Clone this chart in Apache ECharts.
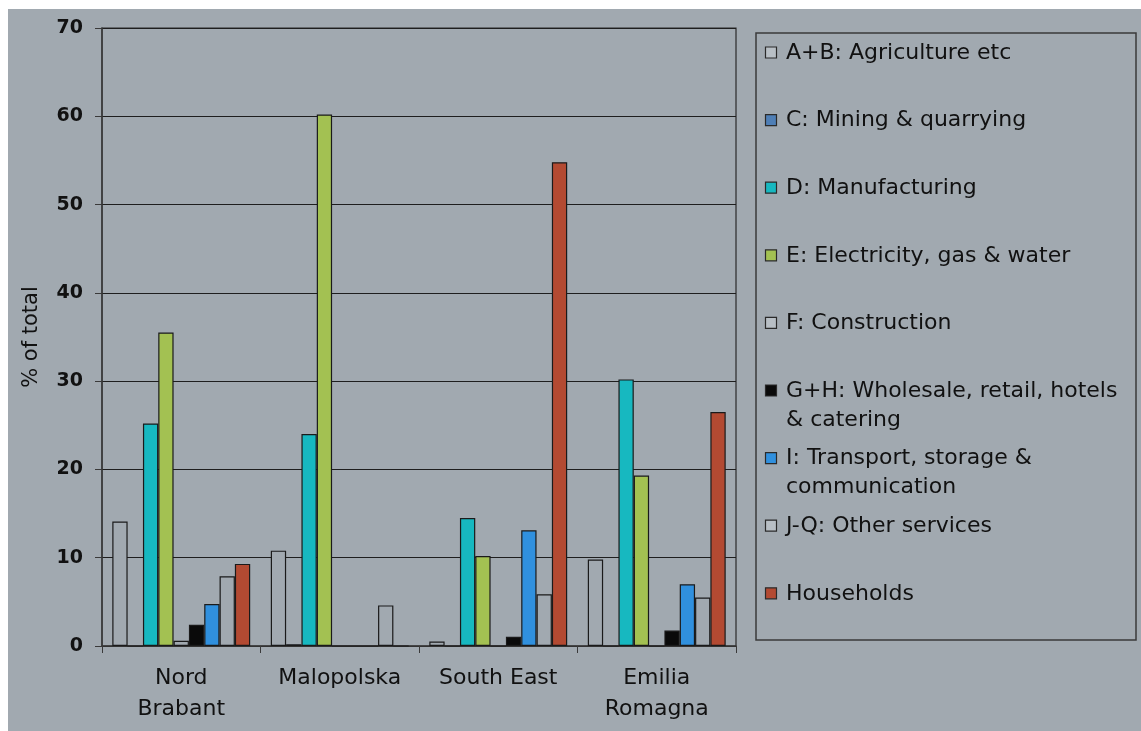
<!DOCTYPE html>
<html>
<head>
<meta charset="utf-8">
<script src="https://cdn.jsdelivr.net/npm/echarts@6/dist/echarts.min.js"></script>
<style>
  html, body { margin: 0; padding: 0; background: #ffffff; width: 1141px; height: 731px; overflow: hidden; }
  #c { position: absolute; left: 8px; top: 9px; width: 1133px; height: 722px; }
</style>
</head>
<body>
<div id="c"></div>
<script>
// ---- data ----
const categories = ['Nord\nBrabant', 'Malopolska', 'South East', 'Emilia\nRomagna'];
const sectorNames = [
  'A+B: Agriculture etc',
  'C: Mining & quarrying',
  'D: Manufacturing',
  'E: Electricity, gas & water',
  'F: Construction',
  'G+H: Wholesale, retail, hotels\n& catering',
  'I: Transport, storage &\ncommunication',
  'J-Q: Other services',
  'Households'
];
const agriculture  = [14.1, 10.8, 0.5, 9.8];
const mining       = [0, 0.2, 0, 0];
const manufacturing = [25.2, 24.0, 14.5, 30.2];
const electricity  = [35.5, 60.2, 10.2, 19.3];
const construction = [0.6, 0, 0, 0];
const wholesale    = [2.4, 0, 1.05, 1.75];
const transport    = [4.75, 0, 13.1, 7.0];
const otherServices = [7.9, 4.6, 5.85, 5.5];
const households   = [9.3, 0, 54.8, 26.5];
const yTicks = [0, 10, 20, 30, 40, 50, 60, 70];

// ---- styles ----
const BG = '#a1a9b0';
const seriesValues = [agriculture, mining, manufacturing, electricity, construction, wholesale, transport, otherServices, households];
const seriesColors = [BG, '#4f7fb6', '#17b8c0', '#a3c152', BG, '#0a0a0a', '#3090de', BG, '#b34a32'];
const FONT = 'DejaVu Sans';

const series = sectorNames.map((n, i) => ({
  name: n,
  type: 'bar',
  data: seriesValues[i],
  barGap: '0%',
  barCategoryGap: '13%',
  itemStyle: { color: seriesColors[i], borderColor: '#1a1a1a', borderWidth: 1.2 },
  emphasis: { disabled: true },
  silent: true
}));

// legend drawn as graphic from the names / colours
const legendGraphics = [{
  type: 'rect',
  shape: { x: 748, y: 24, width: 380, height: 607 },
  style: { fill: 'none', stroke: '#3a3a3a', lineWidth: 1.5 },
  silent: true
}];
sectorNames.forEach((n, i) => {
  const cy = 44 + 67.6 * i;
  legendGraphics.push({
    type: 'rect',
    shape: { x: 757.5, y: cy - 6, width: 11, height: 11 },
    style: { fill: seriesColors[i] === BG ? '#b8bfc5' : seriesColors[i], stroke: '#2a2a2a', lineWidth: 1.2 },
    silent: true
  });
  legendGraphics.push({
    type: 'text',
    x: 778, y: cy - 14.5,
    style: { text: n, fontFamily: FONT, fontSize: 22, lineHeight: 29, fill: '#111', verticalAlign: 'top', align: 'left' },
    silent: true
  });
});

const chart = echarts.init(document.getElementById('c'), null, { renderer: 'canvas' });
chart.setOption({
  backgroundColor: BG,
  animation: false,
  grid: { left: 94, top: 19, right: 405, bottom: 85, show: true, borderColor: '#2a2a2a', borderWidth: 1.2, backgroundColor: 'transparent' },
  xAxis: {
    type: 'category',
    data: categories,
    axisLine: { lineStyle: { color: '#3a3a3a', width: 1.5 } },
    axisTick: { show: true, length: 7, lineStyle: { color: '#3a3a3a' } },
    axisLabel: { fontFamily: FONT, fontSize: 22, lineHeight: 31, color: '#111', margin: 17, interval: 0 }
  },
  yAxis: {
    type: 'value',
    min: 0, max: 70, interval: 10,
    name: '% of total',
    nameLocation: 'middle',
    nameRotate: 90,
    nameGap: 60,
    nameTextStyle: { fontFamily: FONT, fontSize: 21, color: '#111' },
    axisLine: { show: true, lineStyle: { color: '#3a3a3a', width: 1.5 } },
    axisTick: { show: true, length: 7, lineStyle: { color: '#3a3a3a' } },
    axisLabel: {
      fontFamily: FONT, fontSize: 19, fontWeight: 'bold', color: '#111', margin: 19,
      formatter: v => (yTicks.indexOf(v) >= 0 ? String(v) : '')
    },
    splitLine: { show: true, lineStyle: { color: '#1e1e1e', width: 1.2 } }
  },
  series: series,
  graphic: legendGraphics
});
</script>
</body>
</html>
